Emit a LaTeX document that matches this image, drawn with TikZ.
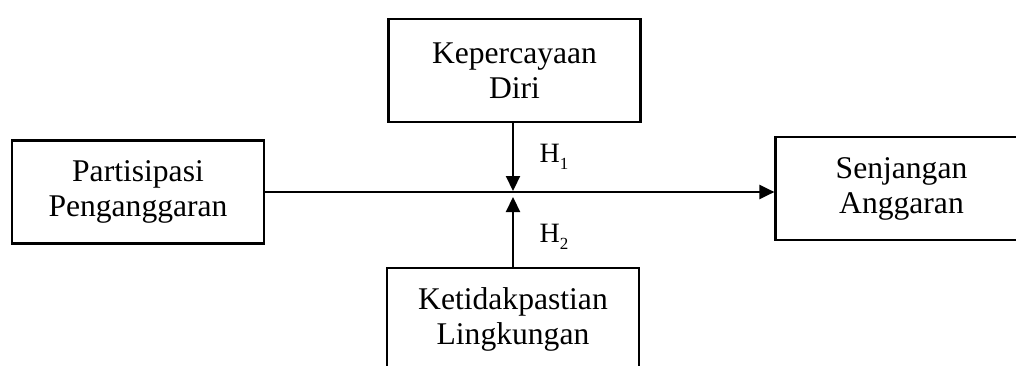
\documentclass[tikz,border=0pt]{standalone}
\usepackage{fontspec}
\setmainfont{Liberation Serif}
\usetikzlibrary{arrows.meta}
\newcommand{\hsub}[1]{H\raisebox{-0.25em}{\fontsize{17}{17}\selectfont #1}}
\begin{document}
\begin{tikzpicture}[x=1pt,y=1pt,
  box/.style={draw=black,line width=2.2pt,minimum width=252pt,minimum height=103pt,
    inner sep=0pt,align=center,font=\fontsize{31.6}{35}\selectfont},
  conn/.style={line width=2.2pt,-{Triangle[length=15pt,width=14pt]}},
  hlab/.style={font=\fontsize{28}{28}\selectfont,inner sep=0pt}]
\useasboundingbox (0,0) rectangle (1016,365);
\node[box] (top) at (514.5,294.5) {Kepercayaan\\Diri};
\node[box] (left) at (138,173) {Partisipasi\\Penganggaran};
\node[box] (right) at (901.5,176.5) {Senjangan\\Anggaran};
\node[box] (bot) at (513,45.5) {Ketidakpastian\\Lingkungan};
\coordinate (jd) at (513,174);
\coordinate (ju) at (513,168);
\draw[conn] (left.east |- 0,173) -- (right.west |- 0,173);
\draw[conn] (top.south -| jd) -- (jd);
\draw[conn] (bot.north -| ju) -- (ju);
\node[hlab] (h1) at (554,208) {\hsub{1}};
\node[hlab] (h2) at (554,128) {\hsub{2}};
\end{tikzpicture}
\end{document}
